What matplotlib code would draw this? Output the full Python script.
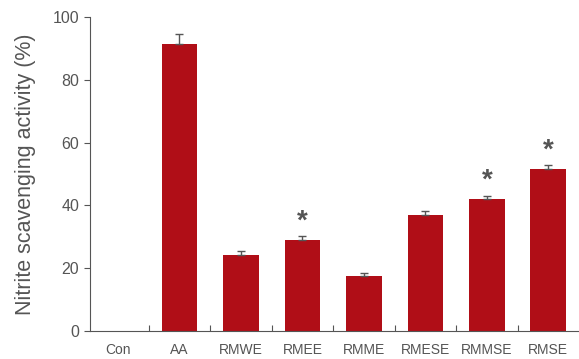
import numpy as np
import matplotlib.pyplot as plt

# data
groups = ['Con', 'AA', 'RMWE', 'RMEE', 'RMME', 'RMESE', 'RMMSE', 'RMSE']
activity = [0, 91.5, 24.3, 29.1, 17.6, 36.9, 42.0, 51.5]
err = [0, 3.0, 1.2, 1.1, 0.8, 1.3, 1.1, 1.3]
signif = [False, False, False, True, False, False, True, True]

plt.rcParams['font.family'] = ['Liberation Sans', 'DejaVu Sans']
grey = '#555555'

fig = plt.figure(figsize=(5.79, 3.59), dpi=100)
ax = fig.add_axes([0.155, 0.078, 0.845, 0.875])

x = np.arange(len(groups))
ax.bar(x, activity, width=0.58, color='#B00E17', zorder=2)
ax.errorbar(x[1:], activity[1:], yerr=[np.zeros(len(x) - 1), err[1:]], fmt='none',
            ecolor=grey, elinewidth=1, capsize=3, capthick=1, zorder=3)

# stars above the significant bars
for i in range(len(groups)):
    if signif[i]:
        ax.text(x[i], activity[i] + err[i] + 0.5, '*', ha='center', va='bottom',
                fontsize=20, color=grey, fontweight='bold')

ax.set_xlim(-0.46, 7.5)
ax.set_ylim(0, 100)
ax.set_yticks([0, 20, 40, 60, 80, 100])

# ticks sit between the categories, labels at the centres
ax.set_xticks(x[:-1] + 0.5)
ax.set_xticklabels([])
ax.set_xticks(x, minor=True)
ax.set_xticklabels(groups, minor=True)
ax.tick_params(axis='x', which='major', direction='in', length=4, color=grey)
ax.tick_params(axis='x', which='minor', length=0, pad=9, labelsize=10, labelcolor=grey)
ax.tick_params(axis='y', direction='out', length=4, color=grey, labelsize=11.5, labelcolor=grey)

ax.set_ylabel('Nitrite scavenging activity (%)', fontsize=15.5, color=grey, labelpad=12)

for s in ['top', 'right']:
    ax.spines[s].set_visible(False)
for s in ['left', 'bottom']:
    ax.spines[s].set_color(grey)

fig.savefig('out.png', dpi=100)
